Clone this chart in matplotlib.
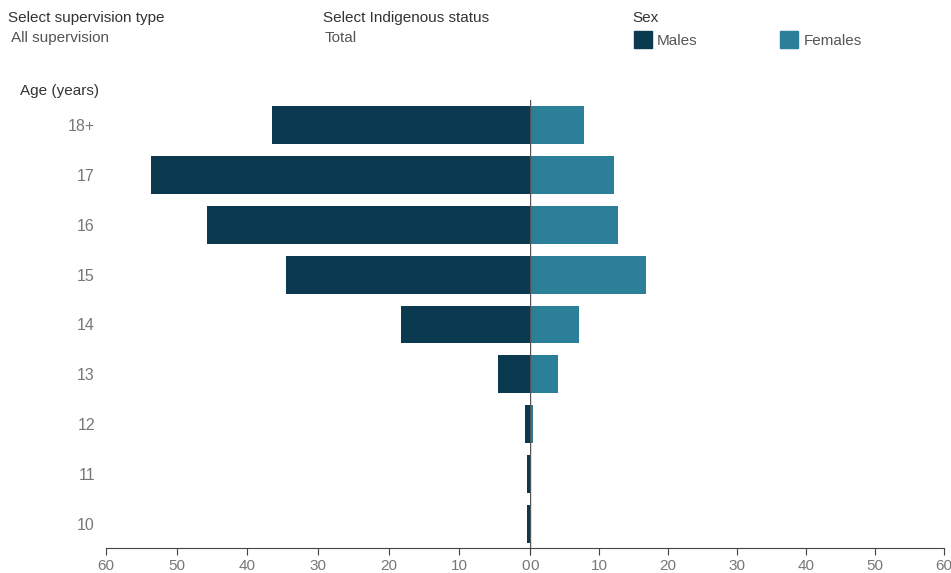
import matplotlib.pyplot as plt
import numpy as np

ages = ['10', '11', '12', '13', '14', '15', '16', '17', '18+']
males = [0.4, 0.4, 0.7, 4.5, 18.3, 34.5, 45.7, 53.6, 36.5]
females = [0.0, 0.0, 0.5, 4.0, 7.1, 16.8, 12.7, 12.2, 7.8]
ticks = [0, 10, 20, 30, 40, 50, 60]

male_c = '#0b3a50'
female_c = '#2b7f99'
plt.rcParams['font.family'] = ['Liberation Sans', 'DejaVu Sans']

fig = plt.figure(figsize=(9.51, 5.73), dpi=100)
y = np.arange(len(ages))
ylim = (-0.48, 8.5)

# males on the left, reversed x
axl = fig.add_axes([106/951, 0.0436, 424/951, 0.782])
axl.barh(y, males, height=0.76, color=male_c)
axl.set_xlim(60, 0)
axl.set_ylim(*ylim)
axl.set_yticks(y)
axl.set_yticklabels(ages, fontsize=11.5, color='#777777')
axl.tick_params(axis='y', length=0, pad=8)

# females on the right
axr = fig.add_axes([530/951, 0.0436, 414/951, 0.782])
axr.barh(y, females, height=0.76, color=female_c)
axr.set_xlim(0, 60)
axr.set_ylim(*ylim)
axr.set_yticks([])

for ax in (axl, axr):
    for s in ['top', 'right', 'left']:
        ax.spines[s].set_visible(False)
    ax.spines['bottom'].set_color('#444444')
    ax.set_xticks(ticks)
    ax.set_xticklabels([str(t) for t in ticks], fontsize=11, color='#777777')
    ax.tick_params(axis='x', length=5, color='#444444', pad=3)

# two zeros side by side, like the original "0 0"
axl.get_xticklabels()[0].set_ha('right')
axr.get_xticklabels()[0].set_ha('left')

# zero line
axr.axvline(0, color='#555555', lw=1)

fig.text(8/951, 1-18/573, 'Select supervision type', fontsize=11, color='#333333', va='center')
fig.text(11/951, 1-38/573, 'All supervision', fontsize=11, color='#555555', va='center')
fig.text(323/951, 1-18/573, 'Select Indigenous status', fontsize=11, color='#333333', va='center')
fig.text(325/951, 1-38/573, 'Total', fontsize=11, color='#555555', va='center')
fig.text(632/951, 1-18/573, 'Sex', fontsize=11, color='#333333', va='center')
fig.patches.append(plt.Rectangle((634/951, 1-48/573), 18/951, 17/573, color=male_c, transform=fig.transFigure, figure=fig))
fig.text(657/951, 1-41/573, 'Males', fontsize=11, color='#555555', va='center')
fig.patches.append(plt.Rectangle((780/951, 1-48/573), 18/951, 17/573, color=female_c, transform=fig.transFigure, figure=fig))
fig.text(804/951, 1-41/573, 'Females', fontsize=11, color='#555555', va='center')
fig.text(20/951, 1-91/573, 'Age (years)', fontsize=11, color='#333333', va='center')

fig.savefig('out.png', dpi=100)
